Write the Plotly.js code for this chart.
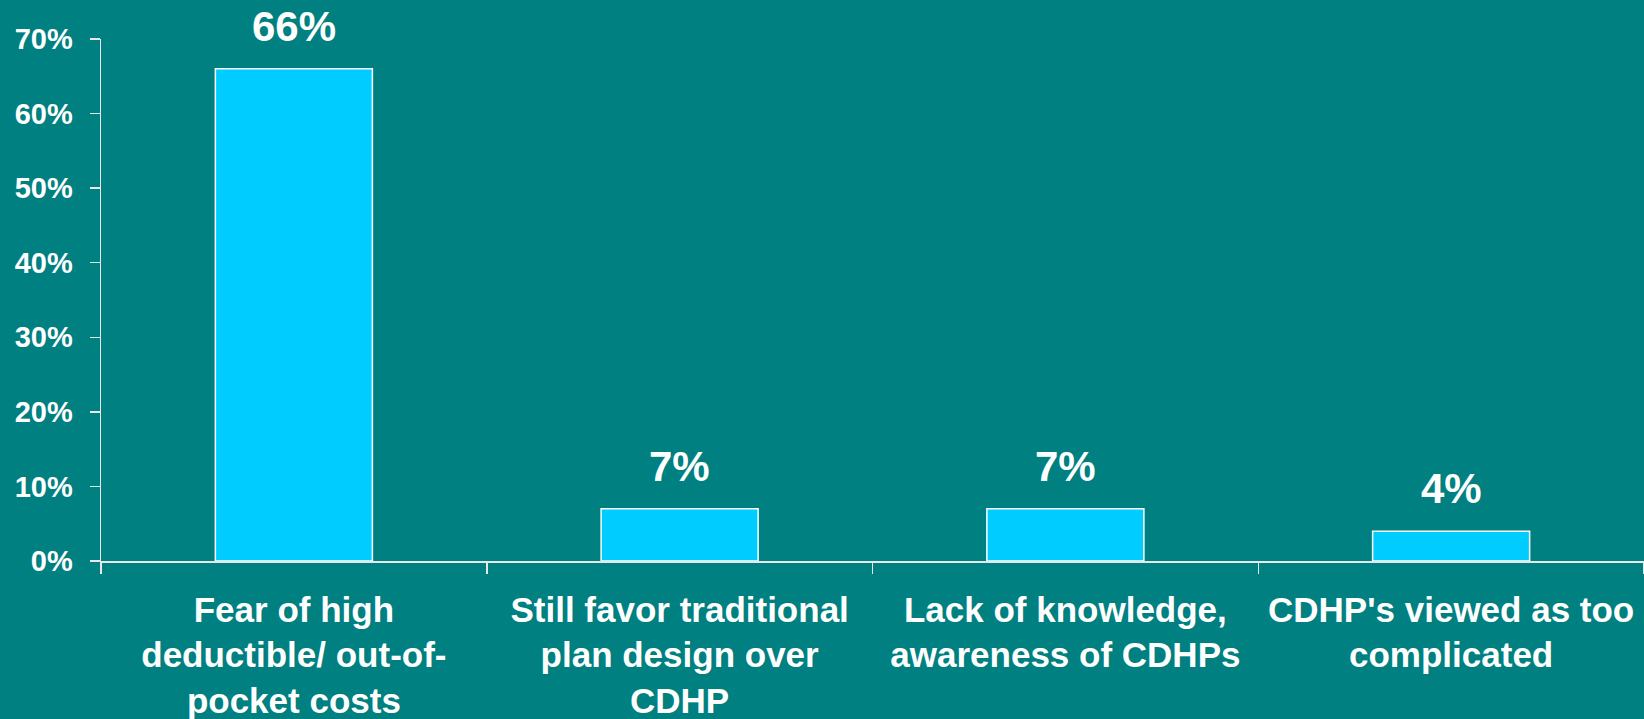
<!DOCTYPE html>
<html>
<head>
<meta charset="utf-8">
<script src="https://cdn.plot.ly/plotly-3.0.1.min.js"></script>
<style>
  html, body { margin: 0; padding: 0; background: #008080; }
  #chart { width: 1644px; height: 719px; }
</style>
</head>
<body>
<div id="chart"></div>
<script>
const categories = [
  "Fear of high<br>deductible/ out-of-<br>pocket costs",
  "Still favor traditional<br>plan design over<br>CDHP",
  "Lack of knowledge,<br>awareness of CDHPs",
  "CDHP's viewed as too<br>complicated"
];
const values = [66, 7, 7, 4];
const valueLabels = ["66%", "7%", "7%", "4%"];
const yTickVals = [0, 10, 20, 30, 40, 50, 60, 70];
const yTickText = ["0%", "10%", "20%", "30%", "40%", "50%", "60%", "70%"];

const font = "Liberation Sans, Arial, sans-serif";

const trace = {
  type: "bar",
  x: categories,
  y: values,
  marker: { color: "#00CCFF", line: { color: "#FFFFFF", width: 1.5 } },
  hoverinfo: "none"
};

const annotations = categories.map((c, i) => ({
  x: c, y: values[i], xref: "x", yref: "y",
  text: valueLabels[i], showarrow: false,
  yanchor: "bottom", yshift: 17,
  font: { family: font, size: 42, color: "#FFFFFF", weight: "bold" }
}));

const layout = {
  width: 1644, height: 719,
  paper_bgcolor: "#008080", plot_bgcolor: "#008080",
  margin: { l: 101, r: 0, t: 39, b: 158 },
  bargap: 0.593,
  showlegend: false,
  xaxis: {
    type: "category",
    showline: true, linecolor: "#E8E8E8", linewidth: 1.5,
    ticks: "outside", tickson: "boundaries", ticklen: 11, tickcolor: "#E8E8E8", tickwidth: 1.5,
    tickfont: { family: font, size: 35, color: "#FFFFFF", weight: "bold" },
    ticklabelstandoff: 17,
    showgrid: false, zeroline: false
  },
  yaxis: {
    range: [0, 70],
    showline: true, linecolor: "#E8E8E8", linewidth: 1.5,
    ticks: "outside", ticklen: 10, tickcolor: "#E8E8E8", tickwidth: 1.5,
    tickvals: yTickVals, ticktext: yTickText,
    tickfont: { family: font, size: 29, color: "#FFFFFF", weight: "bold" },
    ticklabelstandoff: 11,
    showgrid: false, zeroline: false
  },
  annotations: annotations
};

Plotly.newPlot("chart", [trace], layout, { displayModeBar: false, staticPlot: true });
</script>
</body>
</html>
